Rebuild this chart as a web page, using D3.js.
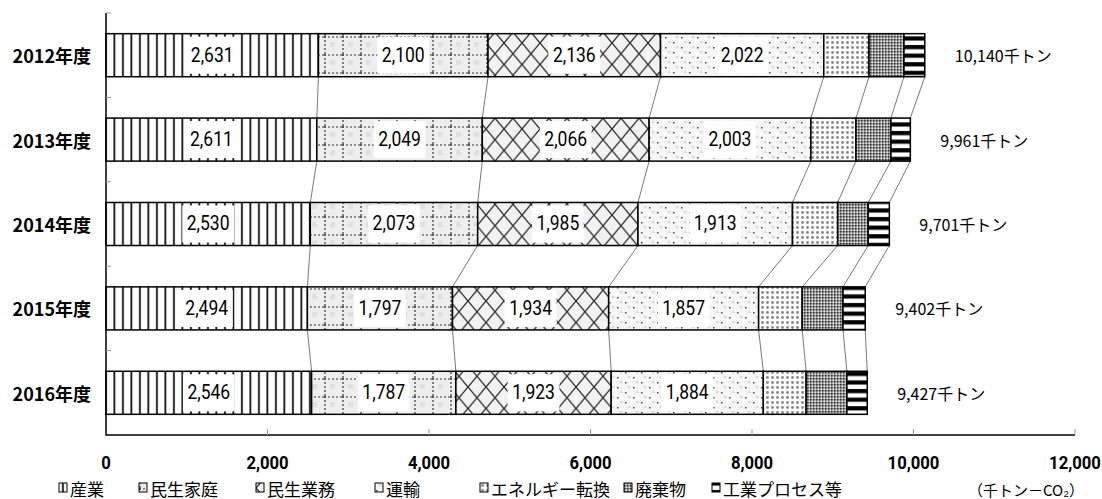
<!DOCTYPE html>
<html>
<head>
    <meta charset="utf-8">
    <title>部門別CO2排出量</title>
    <script src="https://cdnjs.cloudflare.com/ajax/libs/d3/7.8.5/d3.min.js"></script>
    <style>
        body { margin: 0; background: #fff; }
        .num { font-family: "Roboto", "Liberation Sans", sans-serif; }
        .jp { font-family: "Noto Sans CJK JP", sans-serif; }
    </style>
</head>
<body>
    <div id="chart"></div>
    <script>
        // data (千トン-CO2)
        const years = ["2012年度", "2013年度", "2014年度", "2015年度", "2016年度"];
        const sectors = ["産業", "民生家庭", "民生業務", "運輸", "エネルギー転換", "廃棄物", "工業プロセス等"];
        const sangyo      = [2631, 2611, 2530, 2494, 2546];
        const minseiKatei = [2100, 2049, 2073, 1797, 1787];
        const minseiGyomu = [2136, 2066, 1985, 1934, 1923];
        const unyu        = [2022, 2003, 1913, 1857, 1884];
        const energy      = [560, 559, 560, 540, 530];
        const haikibutsu  = [433, 433, 378, 505, 505];
        const kogyo       = [258, 240, 262, 275, 252];
        const totals      = [10140, 9961, 9701, 9402, 9427];
        const xTicks      = [0, 2000, 4000, 6000, 8000, 10000, 12000];

        const series = [sangyo, minseiKatei, minseiGyomu, unyu, energy, haikibutsu, kogyo];
        const rows = years.map((y, i) => {
            const r = {year: y};
            sectors.forEach((s, k) => r[s] = series[k][i]);
            return r;
        });
        const labelled = sectors.slice(0, 4);

        const W = 1102, H = 499;
        const plotL = 106, plotR = 1075, plotT = 13, plotB = 435;
        const narrow = 0.875; // squeeze digits like the original narrow font

        const svg = d3.select("#chart").append("svg")
            .attr("width", W).attr("height", H);

        const x = d3.scaleLinear().domain([0, 12000]).range([plotL, plotR]);
        const y = d3.scaleBand().domain(years).range([plotT, plotB])
            .paddingInner(0.49).paddingOuter(0.245);
        const bh = y.bandwidth();

        // fill patterns
        const defs = svg.append("defs");
        const pats = ["p0", "p1", "p2", "p3", "p4", "p5", "p6"];

        let p = defs.append("pattern").attr("id", "p0").attr("patternUnits", "userSpaceOnUse")
            .attr("width", 8.5).attr("height", 10);
        p.append("rect").attr("width", 8.5).attr("height", 10).attr("fill", "#fff");
        p.append("rect").attr("x", 3).attr("width", 1.8).attr("height", 10).attr("fill", "#111");

        p = defs.append("pattern").attr("id", "p1").attr("patternUnits", "userSpaceOnUse")
            .attr("width", 18).attr("height", 18);
        p.append("rect").attr("width", 18).attr("height", 18).attr("fill", "#eeeeee");
        p.append("rect").attr("x", 6).attr("y", 6).attr("width", 5).attr("height", 5).attr("fill", "#e0e0e0");
        p.append("path").attr("d", "M0,1H18M1,0V18").attr("stroke", "#333")
            .attr("stroke-width", 1.2).attr("stroke-dasharray", "2,2");

        p = defs.append("pattern").attr("id", "p2").attr("patternUnits", "userSpaceOnUse")
            .attr("width", 18).attr("height", 21.5);
        p.append("rect").attr("width", 18).attr("height", 21.5).attr("fill", "#f2f2f2");
        p.append("path").attr("d", "M0,0L18,21.5M18,0L0,21.5").attr("stroke", "#333").attr("stroke-width", 1.4);

        p = defs.append("pattern").attr("id", "p3").attr("patternUnits", "userSpaceOnUse")
            .attr("width", 16).attr("height", 10);
        p.append("rect").attr("width", 16).attr("height", 10).attr("fill", "#f7f7f7");
        p.append("rect").attr("x", 1).attr("y", 2).attr("width", 1.5).attr("height", 1.5).attr("fill", "#444");
        p.append("rect").attr("x", 9).attr("y", 7).attr("width", 1.5).attr("height", 1.5).attr("fill", "#444");
        p.append("circle").attr("cx", 5).attr("cy", 7).attr("r", 1.6).attr("fill", "#ddd");
        p.append("circle").attr("cx", 13).attr("cy", 2).attr("r", 1.6).attr("fill", "#ddd");

        p = defs.append("pattern").attr("id", "p4").attr("patternUnits", "userSpaceOnUse")
            .attr("width", 5).attr("height", 5);
        p.append("rect").attr("width", 5).attr("height", 5).attr("fill", "#fafafa");
        p.append("circle").attr("cx", 2.5).attr("cy", 2.5).attr("r", 1.4).attr("fill", "#888");

        p = defs.append("pattern").attr("id", "p5").attr("patternUnits", "userSpaceOnUse")
            .attr("width", 3).attr("height", 3);
        p.append("rect").attr("width", 3).attr("height", 3).attr("fill", "#999");
        p.append("rect").attr("width", 1.5).attr("height", 1.5).attr("fill", "#333");
        p.append("rect").attr("x", 1.5).attr("y", 1.5).attr("width", 1.5).attr("height", 1.5).attr("fill", "#ddd");

        p = defs.append("pattern").attr("id", "p6").attr("patternUnits", "userSpaceOnUse")
            .attr("width", 10).attr("height", 8.6);
        p.append("rect").attr("width", 10).attr("height", 8.6).attr("fill", "#fff");
        p.append("rect").attr("y", 2).attr("width", 10).attr("height", 4.2).attr("fill", "#000");

        const stack = d3.stack().keys(sectors)(rows);

        // connector lines between bars
        const bounds = sectors.map((s, k) => stack[k].map(d => d[1]));
        const conn = svg.append("g");
        bounds.forEach(b => {
            for (let i = 0; i < years.length - 1; i++) {
                conn.append("line")
                    .attr("x1", x(b[i])).attr("y1", y(years[i]) + bh)
                    .attr("x2", x(b[i + 1])).attr("y2", y(years[i + 1]))
                    .attr("stroke", "#555").attr("stroke-width", 0.8);
            }
        });

        // axes
        svg.append("path")
            .attr("d", `M${plotL},${plotT}V${plotB}H${plotR}`)
            .attr("fill", "none").attr("stroke", "#000").attr("stroke-width", 1.5);
        years.forEach((yr, i) => {
            const yy = plotT + i * y.step();
            svg.append("line").attr("x1", plotL).attr("x2", plotL + 5)
                .attr("y1", yy).attr("y2", yy).attr("stroke", "#999");
        });
        xTicks.slice(1).forEach(v => {
            svg.append("line").attr("x1", x(v)).attr("x2", x(v))
                .attr("y1", plotB).attr("y2", plotB - 6).attr("stroke", "#999");
        });
        svg.append("g").selectAll("text").data(xTicks).join("text")
            .attr("class", "num")
            .attr("transform", d => `translate(${x(d)},462) scale(${narrow},1)`)
            .attr("text-anchor", "middle").attr("dominant-baseline", "central")
            .attr("font-size", 19).attr("font-weight", "bold")
            .text(d => d3.format(",")(d));

        svg.append("g").selectAll("text").data(years).join("text")
            .attr("class", "jp")
            .attr("x", 91).attr("y", d => y(d) + bh / 2)
            .attr("text-anchor", "end").attr("dominant-baseline", "central")
            .attr("font-size", 18).attr("font-weight", "bold")
            .text(d => d);

        // bars
        const layers = svg.append("g").selectAll("g").data(stack).join("g")
            .attr("fill", (d, k) => `url(#${pats[k]})`);
        layers.selectAll("rect").data(d => d).join("rect")
            .attr("x", d => x(d[0]))
            .attr("y", d => y(d.data.year))
            .attr("width", d => x(d[1]) - x(d[0]))
            .attr("height", bh)
            .attr("stroke", "#000").attr("stroke-width", 1.5);

        // value labels with white boxes
        const lab = svg.append("g");
        stack.filter(s => labelled.includes(s.key)).forEach(s => {
            s.forEach(d => {
                const cx = (x(d[0]) + x(d[1])) / 2;
                const cy = y(d.data.year) + bh / 2;
                const t = lab.append("text").attr("class", "num")
                    .attr("transform", `translate(${cx},${cy}) scale(${narrow},1)`)
                    .attr("text-anchor", "middle").attr("dominant-baseline", "central")
                    .attr("font-size", 20)
                    .text(d3.format(",")(d.data[s.key]));
                const w = t.node().getBBox().width * narrow + 9;
                lab.insert("rect", "text")
                    .attr("x", cx - w / 2).attr("y", cy - (bh - 6) / 2)
                    .attr("width", w).attr("height", bh - 6)
                    .attr("fill", "#fff");
            });
        });

        // totals
        svg.append("g").selectAll("text").data(totals).join("text")
            .attr("class", "jp")
            .attr("x", (d, i) => x(d) + 30)
            .attr("y", (d, i) => y(years[i]) + bh / 2)
            .attr("dominant-baseline", "central")
            .attr("font-size", 16)
            .text(d => d3.format(",")(d) + "千トン");

        // legend
        const legendX = [59, 139, 256, 375, 480, 624, 712];
        const lg = svg.append("g").selectAll("g").data(sectors).join("g")
            .attr("transform", (d, k) => `translate(${legendX[k]},488)`);
        lg.append("rect").attr("x", 0).attr("y", -5).attr("width", 8).attr("height", 9)
            .attr("fill", (d, k) => `url(#${pats[k]})`)
            .attr("stroke", "#000").attr("stroke-width", 1);
        lg.append("text").attr("class", "jp")
            .attr("x", 11).attr("y", 0)
            .attr("dominant-baseline", "central")
            .attr("font-size", 17)
            .text(d => d);

        svg.append("text").attr("class", "jp")
            .attr("x", 968).attr("y", 489)
            .attr("dominant-baseline", "central")
            .attr("font-size", 15)
            .text("（千トン－CO₂）");
    </script>
</body>
</html>
